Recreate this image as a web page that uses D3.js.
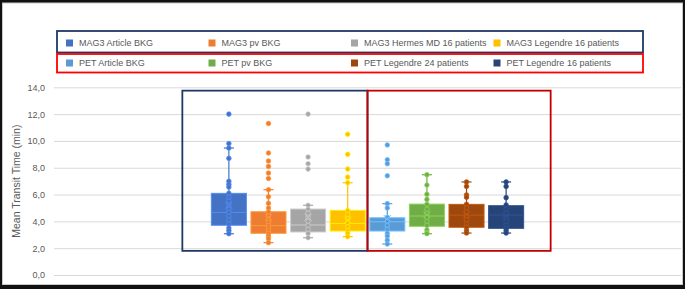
<!DOCTYPE html>
<html>
<head>
<meta charset="utf-8">
<script src="https://cdn.jsdelivr.net/npm/d3@7"></script>
<style>
    body { margin: 0; background: #fff; }
    text { font-family: "Liberation Sans", Arial, sans-serif; fill: #595959; }
</style>
</head>
<body>
<div id="chart"></div>
<script>
"use strict";

// series
const series = ["MAG3 Article BKG", "MAG3 pv BKG", "MAG3 Hermes MD 16 patients", "MAG3 Legendre 16 patients",
                "PET Article BKG", "PET pv BKG", "PET Legendre 24 patients", "PET Legendre 16 patients"];
const seriesColors = ["#4472C4", "#ED7D31", "#A5A5A5", "#FFC000", "#5B9BD5", "#70AD47", "#9E480E", "#264478"];

// box statistics
const whiskerLow  = [3.08, 2.41, 2.78, 2.86, 2.31, 3.08, 3.13, 3.13];
const quartile1   = [3.71, 3.11, 3.21, 3.28, 3.28, 3.63, 3.56, 3.48];
const median      = [4.67, 3.68, 3.73, 3.85, 3.97, 4.40, 4.47, 4.47];
const quartile3   = [6.09, 4.72, 4.92, 4.82, 4.27, 5.29, 5.27, 5.17];
const whiskerHigh = [9.47, 6.36, 5.20, 6.88, 5.32, 7.48, 6.94, 6.94];
const mean        = [5.20, 4.30, 4.30, 4.10, 4.20, 4.50, 4.50, 4.40];

// individual points
const points = [
    [12.0, 9.8, 9.47, 8.7, 6.99, 6.76, 6.56, 6.1, 5.8, 5.5, 5.2, 4.9, 4.67, 4.4, 4.1, 3.8, 3.5, 3.3, 3.08],
    [11.3, 9.1, 8.5, 8.1, 7.6, 7.2, 6.36, 5.84, 5.35, 5.0, 4.7, 4.4, 4.1, 3.9, 3.7, 3.5, 3.3, 3.1, 2.9, 2.7, 2.41],
    [12.0, 8.8, 8.3, 7.9, 5.2, 4.9, 4.6, 4.3, 4.0, 3.7, 3.4, 3.1, 2.78],
    [10.5, 9.0, 7.9, 7.3, 6.88, 4.8, 4.5, 4.2, 3.9, 3.6, 3.3, 3.1, 2.86],
    [9.7, 8.6, 8.3, 7.4, 5.32, 5.0, 4.3, 4.0, 3.7, 3.4, 3.1, 2.9, 2.6, 2.31],
    [7.48, 6.71, 6.02, 5.64, 5.27, 4.9, 4.6, 4.3, 4.0, 3.7, 3.36, 3.16, 3.08],
    [6.94, 6.61, 5.97, 5.8, 5.27, 5.0, 4.7, 4.4, 4.1, 3.8, 3.56, 3.3, 3.13],
    [6.94, 6.61, 5.77, 5.22, 4.9, 4.6, 4.3, 4.0, 3.7, 3.48, 3.3, 3.13]
];

// axis
const yTicks = [0, 2, 4, 6, 8, 10, 12, 14];
const yLabel = "Mean Transit Time (min)";



// consts
const width = 685, height = 289;
const plot = {left: 54, right: 681, top: 87.3, bottom: 275};

let svg = d3.select("#chart")
.append("svg")
.attr("width", width)
.attr("height", height);

// outer frame
svg.append("rect")
.attr("width", width)
.attr("height", height)
.attr("fill", "#111");
svg.append("rect")
.attr("x", 2.5)
.attr("y", 3)
.attr("width", 680)
.attr("height", 281.5)
.attr("fill", "#fff")
.attr("stroke", "#c8c8c8")
.attr("stroke-width", 1);



// scales
let scaleY = d3.scaleLinear()
.domain([0, 14])
.range([plot.bottom, plot.top]);

let scaleX = d3.scaleBand()
.domain(series)
.range([plot.left, plot.right])
.paddingInner(0.09)
.paddingOuter(3.96);

let scaleColor = d3.scaleOrdinal()
.domain(series)
.range(seriesColors);



// grid lines
svg.append("g")
.attr("class", "yGrid")
.attr("transform", `translate(${plot.left}, 0)`)
.call(d3.axisLeft(scaleY).tickValues(yTicks).tickSize(-(plot.right - plot.left)).tickFormat(""))
.call(g => g.select(".domain").remove())
.call(g => g.selectAll("line").attr("stroke", "#d9d9d9"));

// y axis labels
svg.append("g")
.attr("class", "y_axis")
.attr("transform", `translate(${plot.left - 6}, 0)`)
.call(d3.axisLeft(scaleY).tickValues(yTicks).tickSize(0).tickFormat(d => d3.format(".1f")(d).replace(".", ",")))
.call(g => g.select(".domain").remove())
.call(g => g.selectAll("text").attr("font-size", 9).attr("fill", "#595959").attr("font-family", null));

svg.append("text")
.attr("transform", `translate(16, ${(plot.top + plot.bottom) / 2}) rotate(-90)`)
.attr("text-anchor", "middle")
.attr("dominant-baseline", "central")
.attr("font-size", 10.5)
.text(yLabel);



// annotation frames around the two groups
const frameTop = scaleY(13.75), frameBottom = scaleY(1.8);
const midX = (scaleX(series[3]) + scaleX.bandwidth() + scaleX(series[4])) / 2;
svg.append("rect")
.attr("x", scaleX(series[0]) - 28.5)
.attr("y", frameTop)
.attr("width", midX - scaleX(series[0]) + 28.5)
.attr("height", frameBottom - frameTop)
.attr("fill", "none")
.attr("stroke", "#1F3864")
.attr("stroke-width", 1.8);
svg.append("rect")
.attr("x", midX)
.attr("y", frameTop)
.attr("width", scaleX(series[7]) + scaleX.bandwidth() + 26.5 - midX)
.attr("height", frameBottom - frameTop)
.attr("fill", "none")
.attr("stroke", "#C00000")
.attr("stroke-width", 1.8);



// boxes
const bw = scaleX.bandwidth(), capW = 10;
let boxes = svg.selectAll("g.box")
.data(series)
.enter()
.append("g")
.attr("class", "box")
.attr("transform", d => `translate(${scaleX(d)}, 0)`);

boxes.each(function(d, i) {
    let g = d3.select(this);
    let c = scaleColor(d);
    let light = d3.color(c).brighter(0.6).formatHex();
    let cx = bw / 2;

    // whiskers
    [[quartile3[i], whiskerHigh[i]], [quartile1[i], whiskerLow[i]]].forEach(w => {
        g.append("line")
        .attr("x1", cx).attr("x2", cx)
        .attr("y1", scaleY(w[0])).attr("y2", scaleY(w[1]))
        .attr("stroke", c)
        .attr("stroke-width", 1.2);
        g.append("line")
        .attr("x1", cx - capW / 2).attr("x2", cx + capW / 2)
        .attr("y1", scaleY(w[1])).attr("y2", scaleY(w[1]))
        .attr("stroke", c)
        .attr("stroke-width", 1.2);
    });

    // box
    g.append("rect")
    .attr("x", 0.5)
    .attr("y", scaleY(quartile3[i]))
    .attr("width", bw - 1)
    .attr("height", scaleY(quartile1[i]) - scaleY(quartile3[i]))
    .attr("fill", c)
    .attr("stroke", light)
    .attr("stroke-width", 1);

    // median
    g.append("line")
    .attr("x1", 0.5).attr("x2", bw - 0.5)
    .attr("y1", scaleY(median[i])).attr("y2", scaleY(median[i]))
    .attr("stroke", light)
    .attr("stroke-width", 1);

    // points
    g.selectAll("circle")
    .data(points[i])
    .enter()
    .append("circle")
    .attr("cx", cx)
    .attr("cy", v => scaleY(v))
    .attr("r", 2.3)
    .attr("fill", c)
    .attr("stroke", light)
    .attr("stroke-width", 0.8);

    // mean
    let my = scaleY(mean[i]), s = 3.5;
    g.append("path")
    .attr("d", `M${cx - s},${my - s}L${cx + s},${my + s}M${cx - s},${my + s}L${cx + s},${my - s}`)
    .attr("stroke", light)
    .attr("stroke-width", 1);
});



// legend
const legendCols = [66, 208.5, 351, 493.5];
const legendRows = [43, 63];
svg.append("rect")
.attr("x", 57).attr("y", 31)
.attr("width", 586).attr("height", 21.5)
.attr("fill", "none")
.attr("stroke", "#1F3864")
.attr("stroke-width", 1.8);
svg.append("rect")
.attr("x", 57).attr("y", 54)
.attr("width", 586).attr("height", 18.5)
.attr("fill", "none")
.attr("stroke", "#FF0000")
.attr("stroke-width", 1.8);

let legend = svg.selectAll("g.legend_item")
.data(series)
.enter()
.append("g")
.attr("class", "legend_item")
.attr("transform", (d, i) => `translate(${legendCols[i % 4]}, ${legendRows[Math.floor(i / 4)]})`);

legend.append("rect")
.attr("x", 0)
.attr("y", -3.5)
.attr("width", 7)
.attr("height", 7)
.attr("fill", d => scaleColor(d));

legend.append("text")
.attr("x", 13)
.attr("y", 0)
.attr("dominant-baseline", "central")
.attr("font-size", 9)
.text(d => d);
</script>
</body>
</html>
